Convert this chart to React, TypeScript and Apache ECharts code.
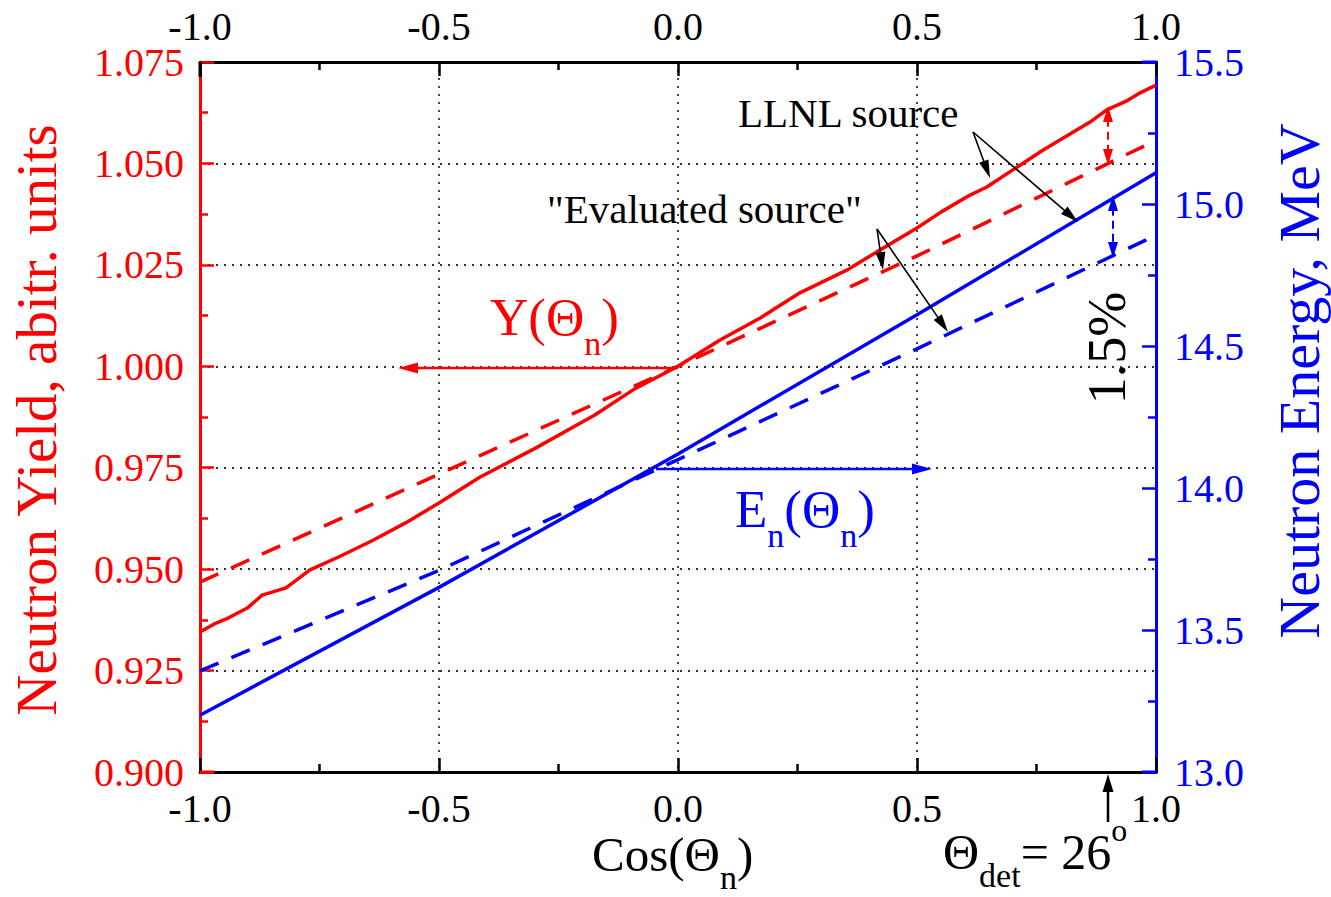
import React, { useEffect, useRef } from "react";
import * as echarts from "echarts";

const FONT = '"Liberation Serif", "Times New Roman", serif';

// ---- data ----
const cosLLNLYield = [
  -1.0, -0.97, -0.94, -0.9, -0.87, -0.82, -0.77, -0.71, -0.64, -0.57, -0.5, -0.414, -0.3, -0.174, -0.09, 0.0,
  0.088, 0.172, 0.255, 0.353, 0.416, 0.5, 0.55, 0.611, 0.646, 0.764, 0.862, 0.897, 0.94, 0.967, 1.0,
];
const yieldLLNL = [
  0.9345, 0.9365, 0.938, 0.9405, 0.9436, 0.9454, 0.9498, 0.953, 0.957, 0.9614, 0.9663, 0.9727, 0.9797, 0.988, 0.9945, 1.0,
  1.0065, 1.0119, 1.0181, 1.0237, 1.0282, 1.0341, 1.038, 1.0422, 1.0442, 1.0533, 1.0602, 1.0632, 1.0655, 1.0674, 1.0693,
];
const cosEval = [-1.0, -0.5, 0.0, 0.5, 1.0];
const yieldEval = [0.9468, 0.9734, 1.0, 1.0272, 1.0557];
const cosEnergy = [-1.0, -0.5, 0.0, 0.5, 1.0];
const energyLLNL = [13.2, 13.65, 14.12, 14.61, 15.11];
const energyEval = [13.356, 13.71, 14.1, 14.49, 14.89];

const xMin = -1.0, xMax = 1.0, xStep = 0.5;
const yMin = 0.9, yMax = 1.075, yStep = 0.025;
const eMin = 13.0, eMax = 15.5, eStep = 0.5;

const pairs = (xs: number[], ys: number[]) => xs.map((x, i) => [x, ys[i]]);

let measureCtx: CanvasRenderingContext2D | null = null;
function textWidth(t: string, size: number) {
  if (!measureCtx) measureCtx = document.createElement("canvas").getContext("2d");
  measureCtx!.font = `${size}px "Liberation Serif"`;
  return measureCtx!.measureText(t).width;
}

type Part = { t: string; size: number; dy?: number };
function richLine(x: number, baseline: number, parts: Part[], color: string) {
  let cx = x;
  const els: any[] = [];
  for (const p of parts) {
    els.push({
      type: "text",
      x: cx,
      y: baseline + (p.dy || 0) - 0.3375 * p.size,
      z: 100,
      style: { text: p.t, fill: color, font: `${p.size}px ${FONT}`, align: "left", verticalAlign: "middle" },
    });
    cx += textWidth(p.t, p.size);
  }
  return els;
}

function rotText(cx: number, cy: number, text: string, size: number, color: string) {
  return {
    type: "text",
    x: cx,
    y: cy,
    rotation: Math.PI / 2,
    z: 100,
    style: { text, fill: color, font: `${size}px ${FONT}`, align: "center", verticalAlign: "middle" },
  };
}

function arrow(
  x1: number, y1: number, x2: number, y2: number, color: string, lw: number,
  hl: number, hw: number, dash?: number[], both?: boolean
) {
  const dx = x2 - x1, dy = y2 - y1, L = Math.hypot(dx, dy);
  const ux = dx / L, uy = dy / L, px = -uy, py = ux;
  const head = (tx: number, ty: number, sx: number, sy: number) => ({
    type: "polygon",
    z: 101,
    shape: {
      points: [
        [tx, ty],
        [tx - sx * hl + (px * hw) / 2, ty - sy * hl + (py * hw) / 2],
        [tx - sx * hl - (px * hw) / 2, ty - sy * hl - (py * hw) / 2],
      ],
    },
    style: { fill: color, stroke: "none" },
  });
  const sx = both ? x1 + ux * hl * 0.8 : x1;
  const sy = both ? y1 + uy * hl * 0.8 : y1;
  const els: any[] = [
    {
      type: "line",
      z: 100,
      shape: { x1: sx, y1: sy, x2: x2 - ux * hl * 0.8, y2: y2 - uy * hl * 0.8 },
      style: { stroke: color, lineWidth: lw, lineDash: dash || null },
    },
    head(x2, y2, ux, uy),
  ];
  if (both) els.push(head(x1, y1, -ux, -uy));
  return els;
}

function seg(x1: number, y1: number, x2: number, y2: number, color: string, lw: number) {
  return { type: "line", z: 90, shape: { x1, y1, x2, y2 }, style: { stroke: color, lineWidth: lw } };
}

export default function App() {
  const ref = useRef<HTMLDivElement>(null);

  useEffect(() => {
    if (!ref.current) return;
    const chart = echarts.init(ref.current, undefined, { renderer: "svg" });

    const tickFont = { fontSize: 40, fontFamily: FONT, lineHeight: 40 };
    const dotted = { type: [2, 6], color: "#333", width: 1.8 };

    const xBase = (pos: "top" | "bottom", margin: number, split: boolean) => ({
      type: "value",
      position: pos,
      min: xMin,
      max: xMax,
      interval: xStep,
      axisLine: { show: true, onZero: false, lineStyle: { color: "#000", width: 3 } },
      axisTick: { show: true, inside: true, length: 14, lineStyle: { color: "#000", width: 2.5 } },
      minorTick: { show: true, splitNumber: 2, length: 8, lineStyle: { color: "#000", width: 2.5 } },
      axisLabel: { ...tickFont, color: "#000", margin, formatter: (v: number) => v.toFixed(1) },
      splitLine: { show: split, lineStyle: dotted },
      minorSplitLine: { show: false },
    });

    const graphics: any[] = [
      // axis corner details
      seg(200, 62, 200, 77, "#000", 3),
      seg(200, 772, 214, 772, "#ff0000", 3),
      seg(1142, 62, 1156, 62, "#0000ff", 3),
      seg(1142, 772, 1156, 772, "#0000ff", 3),
      // axis titles
      rotText(36, 420, "Neutron Yield, abitr. units", 57, "#ff0000"),
      rotText(1299, 381, "Neutron Energy, MeV", 58, "#0000ff"),
      ...richLine(592, 871, [
        { t: "Cos(Θ", size: 49 },
        { t: "n", size: 34, dy: 18 },
        { t: ")", size: 49 },
      ], "#000"),
      // annotations
      ...richLine(738, 127, [{ t: "LLNL source", size: 41 }], "#000"),
      ...richLine(547, 223, [{ t: '"Evaluated source"', size: 41 }], "#000"),
      ...arrow(973, 132, 990, 178, "#000", 1.6, 18, 10),
      ...arrow(973, 132, 1078, 222, "#000", 1.6, 18, 10),
      ...arrow(877, 229, 883, 270, "#000", 1.6, 18, 10),
      ...arrow(877, 229, 948, 332, "#000", 1.6, 18, 10),
      ...richLine(490, 335, [
        { t: "Y(Θ", size: 53 },
        { t: "n", size: 34, dy: 20 },
        { t: ")", size: 53 },
      ], "#ff0000"),
      ...arrow(678, 368, 398, 368, "#ff0000", 2.5, 20, 11),
      ...richLine(735, 527, [
        { t: "E", size: 53 },
        { t: "n", size: 34, dy: 20 },
        { t: "(Θ", size: 53 },
        { t: "n", size: 34, dy: 20 },
        { t: ")", size: 53 },
      ], "#0000ff"),
      ...arrow(656, 469, 932, 469, "#0000ff", 2.5, 20, 11),
      ...arrow(1108, 106, 1108, 165, "#ff0000", 2, 16, 10, [8, 5], true),
      ...arrow(1113, 195, 1113, 258, "#0000ff", 2, 16, 10, [8, 5], true),
      rotText(1107, 348, "1.5%", 54, "#000"),
      ...arrow(1108, 822, 1108, 774, "#000", 2.5, 18, 11),
      ...richLine(943, 869, [
        { t: "Θ", size: 50 },
        { t: "det", size: 34, dy: 18 },
        { t: "= 26", size: 50 },
        { t: "o", size: 32, dy: -28 },
      ], "#000"),
    ];

    chart.setOption({
      animation: false,
      backgroundColor: "#fff",
      grid: { left: 200, right: 175, top: 62, bottom: 125, containLabel: false },
      xAxis: [xBase("bottom", 16, true), xBase("top", 16, false)],
      yAxis: [
        {
          type: "value",
          position: "left",
          min: yMin,
          max: yMax,
          interval: yStep,
          axisLine: { show: true, onZero: false, lineStyle: { color: "#ff0000", width: 3 } },
          axisTick: { show: true, inside: true, length: 14, lineStyle: { color: "#ff0000", width: 2.5 } },
          minorTick: { show: true, splitNumber: 2, length: 8, lineStyle: { color: "#ff0000", width: 2.5 } },
          axisLabel: { ...tickFont, color: "#ff0000", margin: 16, formatter: (v: number) => v.toFixed(3) },
          splitLine: { show: true, lineStyle: dotted },
        },
        {
          type: "value",
          position: "right",
          min: eMin,
          max: eMax,
          interval: eStep,
          axisLine: { show: true, onZero: false, lineStyle: { color: "#0000ff", width: 3 } },
          axisTick: { show: true, inside: true, length: 14, lineStyle: { color: "#0000ff", width: 2.5 } },
          minorTick: { show: true, splitNumber: 2, length: 8, lineStyle: { color: "#0000ff", width: 2.5 } },
          axisLabel: { ...tickFont, color: "#0000ff", margin: 18, formatter: (v: number) => v.toFixed(1) },
          splitLine: { show: false },
        },
      ],
      series: [
        {
          name: "Y LLNL",
          type: "line",
          xAxisIndex: 0,
          yAxisIndex: 0,
          data: pairs(cosLLNLYield, yieldLLNL),
          showSymbol: false,
          symbol: "none",
          lineStyle: { color: "#ff0000", width: 3.5 },
          z: 5,
        },
        {
          name: "Y evaluated",
          type: "line",
          xAxisIndex: 0,
          yAxisIndex: 0,
          data: pairs(cosEval, yieldEval),
          showSymbol: false,
          symbol: "none",
          lineStyle: { color: "#ff0000", width: 3.5, type: [20, 14] },
          z: 5,
        },
        {
          name: "E LLNL",
          type: "line",
          xAxisIndex: 0,
          yAxisIndex: 1,
          data: pairs(cosEnergy, energyLLNL),
          showSymbol: false,
          symbol: "none",
          lineStyle: { color: "#0000ff", width: 3.5 },
          z: 5,
        },
        {
          name: "E evaluated",
          type: "line",
          xAxisIndex: 0,
          yAxisIndex: 1,
          data: pairs(cosEnergy, energyEval),
          showSymbol: false,
          symbol: "none",
          lineStyle: { color: "#0000ff", width: 3.5, type: [20, 14] },
          z: 5,
        },
      ],
      graphic: graphics,
    });

    return () => chart.dispose();
  }, []);

  return (
    <div
      ref={ref}
      style={{ position: "fixed", left: 0, top: 0, width: 1331, height: 897, background: "#fff" }}
    />
  );
}
